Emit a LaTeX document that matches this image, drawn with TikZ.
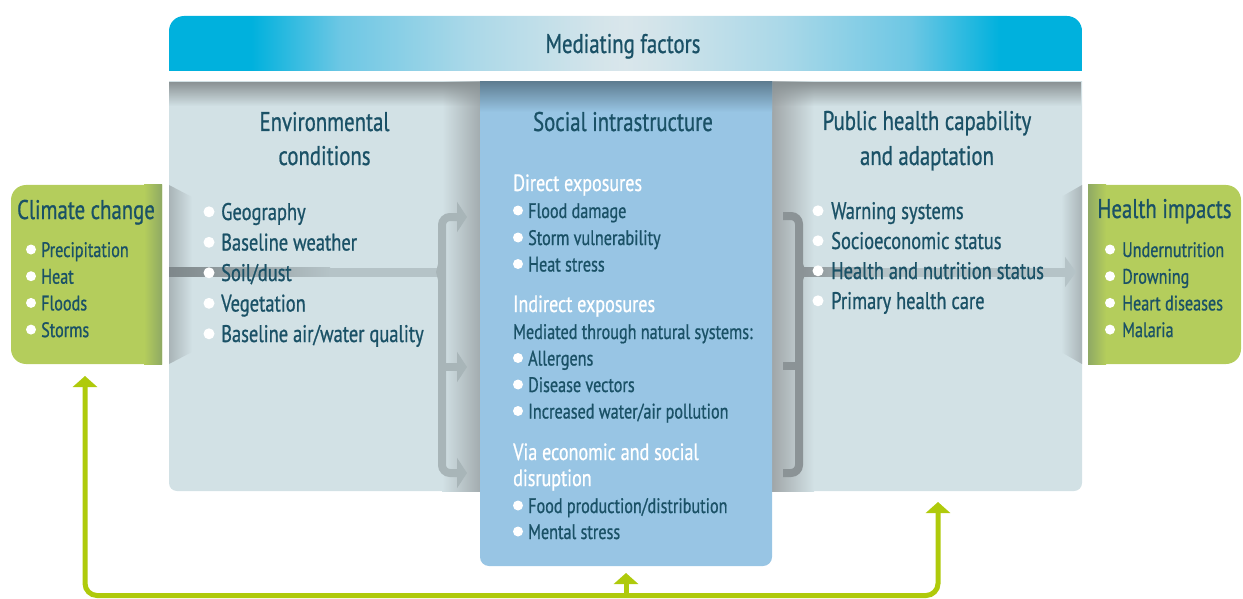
\documentclass[tikz,border=0pt]{standalone}
\usepackage{fontspec}
\setmainfont{PT Sans}[FakeStretch=0.77, FakeBold=0.8]
\usetikzlibrary{arrows.meta,fadings}
\definecolor{txt}{HTML}{1A5166}
\definecolor{panel}{HTML}{D2E1E5}
\definecolor{panelshadow}{HTML}{8A9294}
\definecolor{bluecol}{HTML}{98C5E4}
\definecolor{bluetop}{HTML}{5F7E92}
\definecolor{cyanA}{HTML}{00B1DD}
\definecolor{cyanB}{HTML}{6DC7E4}
\definecolor{cyanC}{HTML}{AAD8E8}
\definecolor{cyanD}{HTML}{D3E4EA}
\definecolor{paleA}{HTML}{D9E6EB}
\definecolor{greenbox}{HTML}{B4CD5C}
\definecolor{greendark}{HTML}{8FA964}
\definecolor{lime}{HTML}{AFCA0B}
\definecolor{brkL}{HTML}{A8B5B8}
\definecolor{brkR}{HTML}{8B9396}
\definecolor{lineDark}{HTML}{7E878A}
\definecolor{lineLight}{HTML}{B5C3C7}
\definecolor{shadowL}{HTML}{A3ACAF}
\definecolor{shadowR}{HTML}{A0A6A8}
\definecolor{funnelG}{HTML}{A9B4B7}
\pgfdeclarehorizontalshading{medbar}{100bp}{color(0bp)=(cyanA); color(29.5bp)=(cyanA); color(34.4bp)=(cyanB); color(41.4bp)=(cyanC); color(48.4bp)=(cyanD); color(50bp)=(paleA); color(51.6bp)=(cyanD); color(58.6bp)=(cyanC); color(65.6bp)=(cyanB); color(70.5bp)=(cyanA); color(100bp)=(cyanA)}
\tikzset{
  hd/.style={text=txt, inner sep=0, anchor=base, font=\fontsize{27}{30}\selectfont},
  ghd/.style={hd, font=\fontsize{27}{30}\selectfont},
  it/.style={text=txt, inner sep=0, anchor=base west, font=\fontsize{24}{28}\selectfont},
  sit/.style={text=txt, inner sep=0, anchor=base west, font=\fontsize{21}{25}\selectfont},
  sub/.style={text=white, inner sep=0, anchor=base west, font=\fontsize{23.5}{26}\selectfont},
  brkline/.style={line width=8pt},
  fb/.style={lime, line width=5pt, rounded corners=12pt, -{Triangle[width=24pt,length=11pt]}},
}
\begin{document}
\begin{tikzpicture}[x=1pt,y=-1pt]
\useasboundingbox (0,0) rectangle (1243,599);
% ---------- mediating factors bar
\begin{scope}
  \clip (169,16) rectangle (1082,71);
  \shade[shading=medbar, rounded corners=15pt] (169,16) rectangle (1082,100);
\end{scope}
\coordinate (med) at (623,43);
\node[hd] (medtxt) at (623,53) {Mediating factors};
% ---------- main panel
\begin{scope}
  \clip (160,82) rectangle (1090,560);
  \fill[panel, rounded corners=8pt] (169,60) rectangle (1082,491);
\end{scope}
\shade[left color=panel, right color=shadowL] (442,82) rectangle (480,491);
\shade[left color=shadowR, right color=panel] (772,82) rectangle (814,491);
\fill[panelshadow, path fading=south] (169,82) rectangle (1082,106);
% ---------- social infrastructure column
\begin{scope}
  \clip (470,82) rectangle (780,580);
  \fill[bluecol, rounded corners=9pt] (480,60) rectangle (772,566);
\end{scope}
\shade[top color=bluetop, bottom color=bluecol] (480,82) rectangle (772,112);
% ---------- funnels
\shade[left color=funnelG, right color=panel] (169,185) -- (192,197) -- (192,352) -- (169,364) -- cycle;
\shade[left color=panel, right color=funnelG] (1082,185) -- (1061,197) -- (1061,352) -- (1082,364) -- cycle;
% ---------- green boxes
\begin{scope}
  \clip (11,185) rectangle (162,364);
  \fill[greenbox, rounded corners=15pt] (11,185) rectangle (185,364);
\end{scope}
\shade[left color=greenbox, right color=greendark] (144,185) rectangle (162,364);
\begin{scope}
  \clip (1088,185) rectangle (1241,364);
  \fill[greenbox, rounded corners=15pt] (1065,185) rectangle (1241,364);
\end{scope}
\shade[left color=greendark, right color=greenbox] (1088,185) rectangle (1106,364);
% ---------- left connector and bracket
\shade[left color=lineDark, right color=lineLight] (169,267.5) rectangle (330,276.5);
\fill[lineLight] (330,267.5) rectangle (440,276.5);
\draw[brkL, brkline, rounded corners=8pt, -{Triangle[width=30pt,length=10pt]}] (442,300) -- (442,217) -- (467,217);
\draw[brkL, brkline, rounded corners=8pt, -{Triangle[width=30pt,length=10pt]}] (442,300) -- (442,473) -- (467,473);
\draw[brkL, brkline, -{Triangle[width=30pt,length=10pt]}] (442,367) -- (467,367);
\fill[brkL] (438,264) -- (436,272) -- (438,280) -- cycle;
% ---------- right bracket and connector
\draw[brkR, brkline, rounded corners=8pt] (783,216) -- (799,216) -- (799,473) -- (783,473);
\draw[brkR, brkline] (783,366) -- (799,366);
\fill[brkR] (803,264) -- (806,272) -- (803,280) -- cycle;
\shade[left color=brkR, right color=lineLight] (803,267.5) rectangle (880,276.5);
\draw[lineLight, line width=9pt, -{Triangle[width=30pt,length=11pt]}] (880,272) -- (1076,272);
% ---------- headings
\node[hd] (envh1) at (324.5,131) {Environmental};
\node[hd] (envh2) at (324.5,165) {conditions};
\node[hd] (soch) at (623,131) {Social intrastructure};
\node[hd] (pubh1) at (927,130) {Public health capability};
\node[hd] (pubh2) at (927,165) {and adaptation};
\node[ghd] (cch) at (86,219) {Climate change};
\node[ghd] (hih) at (1164.5,218) {Health impacts};
% ---------- environmental items
\foreach \t [count=\i from 0] in {Geography, Baseline weather, Soil/dust, Vegetation, Baseline air/water quality} {
  \pgfmathsetmacro\yb{220+30.5*\i}
  \fill[white] (209,\yb-8.2) circle[radius=5.5pt];
  \node[it] (env\i) at (221,\yb) {\t};
}
% ---------- public health items
\foreach \t [count=\i from 0] in {Warning systems, Socioeconomic status, Health and nutrition status, Primary health care} {
  \pgfmathsetmacro\yb{219+30*\i}
  \fill[white] (818,\yb-8.2) circle[radius=5.5pt];
  \node[it] (pub\i) at (831,\yb) {\t};
}
% ---------- climate items
\foreach \t [count=\i from 0] in {Precipitation, Heat, Floods, Storms} {
  \pgfmathsetmacro\yb{257+26.7*\i}
  \fill[white] (31,\yb-7.5) circle[radius=5pt];
  \node[sit] (cc\i) at (41,\yb) {\t};
}
% ---------- health items
\foreach \t [count=\i from 0] in {Undernutrition, Drowning, Heart diseases, Malaria} {
  \pgfmathsetmacro\yb{257+26.7*\i}
  \fill[white] (1110,\yb-7.5) circle[radius=5pt];
  \node[sit] (hi\i) at (1122,\yb) {\t};
}
% ---------- social items
\node[sub] (dex) at (513,191) {Direct exposures};
\foreach \t/\yb [count=\i] in {Flood damage/218, Storm vulnerability/245, Heat stress/271.5, Allergens/365.5, Disease vectors/392, Increased water\slash air pollution/418.5, Food production\slash distribution/513, Mental stress/539} {
  \fill[white] (518,\yb-7.5) circle[radius=5pt];
  \node[sit] (soc\i) at (528,\yb) {\t};
}
\node[sub] (iex) at (513,312) {Indirect exposures};
\node[sit] (med2) at (513,339) {Mediated through natural systems:};
\node[sub] (via1) at (513,460) {Via economic and social};
\node[sub] (via2) at (513,486) {disruption};
% ---------- feedback arrows
\coordinate (fbL) at (85,376);
\coordinate (fbM) at (626,573);
\coordinate (fbR) at (938,502);
\coordinate (fbB) at (626,595.5);
\draw[fb] (fbB) -| (fbL);
\draw[fb] (fbB) -| (fbR);
\draw[fb] (fbB) -- (fbM);
\end{tikzpicture}
\end{document}
